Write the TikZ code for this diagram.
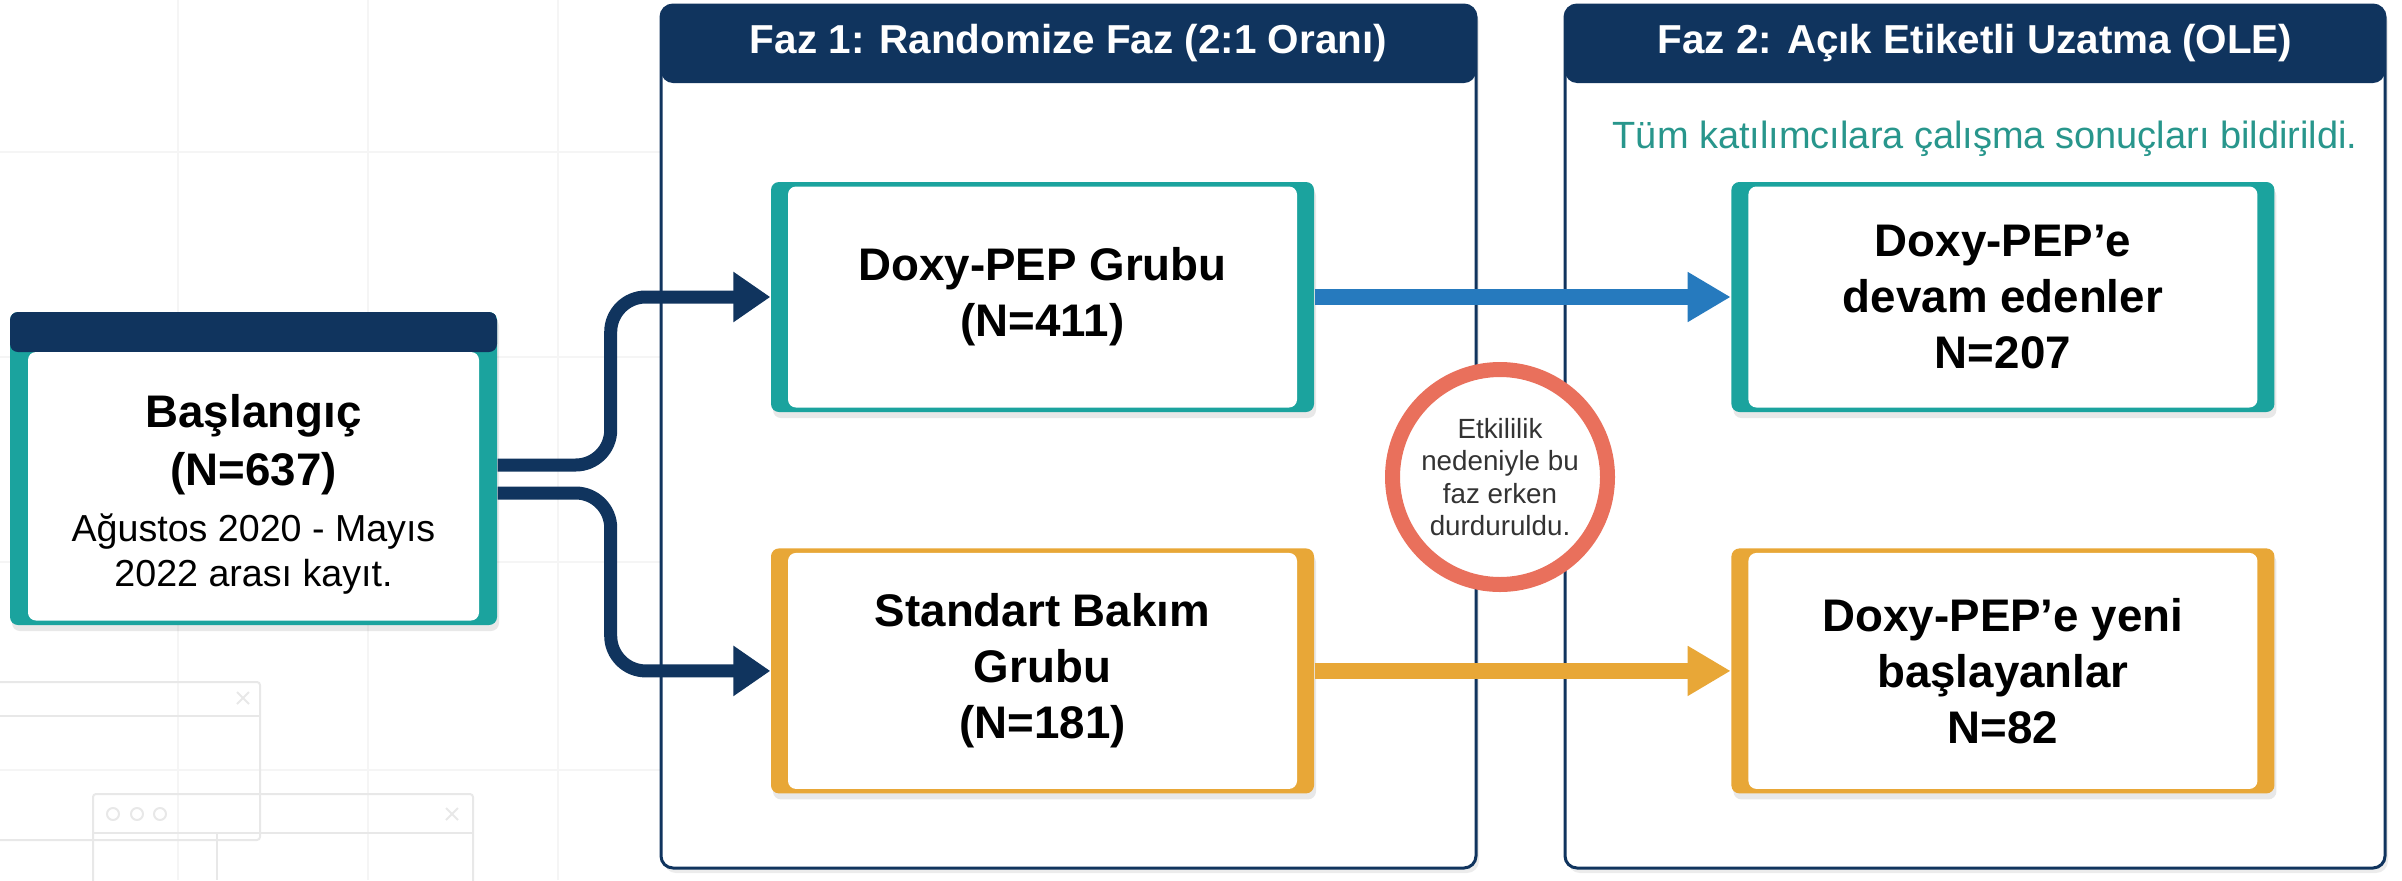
\documentclass[tikz,border=0pt]{standalone}
\usepackage{fontspec}
\setmainfont{Liberation Sans}
\usetikzlibrary{arrows.meta, positioning, calc, shadows}

\definecolor{navy}{RGB}{16,52,94}
\definecolor{tealc}{RGB}{27,163,158}
\definecolor{gold}{RGB}{232,167,55}
\definecolor{flowblue}{RGB}{38,122,190}
\definecolor{ring}{RGB}{233,112,92}
\definecolor{subteal}{RGB}{40,150,140}

\begin{document}
\begin{tikzpicture}
\tikzset{
  panel/.style={
    draw=navy,
    line width=0.03cm,
    fill=white,
    rounded corners=0.12cm,
    minimum width=8.15cm,
    minimum height=8.63cm,
    drop shadow={opacity=0.15, shadow xshift=0.03cm, shadow yshift=-0.05cm},
    path picture={\fill[navy] ($(path picture bounding box.north west)+(0,-0.78)$) rectangle (path picture bounding box.north east);}
  },
  group/.style={
    rectangle,
    fill=#1,
    rounded corners=0.08cm,
    minimum width=5.43cm,
    minimum height=2.30cm,
    align=center,
    font=\fontsize{13}{16}\selectfont\bfseries,
    drop shadow={opacity=0.18, shadow xshift=0.02cm, shadow yshift=-0.06cm},
    path picture={\fill[white] ($(path picture bounding box.south west)+(0.17,0.045)$) rectangle ($(path picture bounding box.north east)+(-0.17,-0.045)$);}
  },
  startbox/.style={
    rectangle,
    fill=tealc,
    rounded corners=0.08cm,
    minimum width=4.87cm,
    minimum height=3.13cm,
    drop shadow={opacity=0.18, shadow xshift=0.02cm, shadow yshift=-0.06cm},
    path picture={
      \fill[navy] ($(path picture bounding box.north west)+(0,-0.40)$) rectangle (path picture bounding box.north east);
      \fill[white] ($(path picture bounding box.south west)+(0.18,0.045)$) rectangle ($(path picture bounding box.north east)+(-0.18,-0.40)$);}
  },
  header/.style={text=white, font=\fontsize{11.5}{14}\selectfont\bfseries},
  branch/.style={draw=navy, line width=0.13cm, rounded corners=0.35cm, -{Triangle[length=0.37cm, width=0.48cm]}},
  carry/.style={line width=0.16cm, -{Triangle[length=0.43cm, width=0.47cm]}},
  faint/.style={draw=black!4, line width=0.02cm}
}
\useasboundingbox (0,0) rectangle (24.02,-8.80);

% Background grid and window outlines
\foreach \x in {1.78,3.68,5.58}
  \draw[faint] (\x,0) -- (\x,-8.80);
\foreach \y in {-1.52,-3.57,-5.62,-7.70}
  \draw[faint] (0,\y) -- (6.6,\y);
\draw[faint, draw=black!9, rounded corners=0.03cm] (-0.1,-6.82) rectangle (2.60,-8.40);
\draw[faint, draw=black!9] (-0.1,-7.16) -- (2.60,-7.16);
\draw[faint, draw=black!9] (2.37,-6.92) -- (2.49,-7.04) (2.37,-7.04) -- (2.49,-6.92);
\draw[faint, draw=black!9, rounded corners=0.03cm] (0.93,-9.0) rectangle (4.73,-7.94);
\draw[faint, draw=black!9] (0.93,-8.33) -- (4.73,-8.33);
\draw[faint, draw=black!9] (2.17,-8.33) -- (2.17,-8.80);
\foreach \x in {1.13,1.37,1.60}
  \draw[faint, draw=black!9] (\x,-8.14) circle (0.06);
\draw[faint, draw=black!9] (4.46,-8.08) -- (4.58,-8.20) (4.46,-8.20) -- (4.58,-8.08);

% Phase panels
\node[panel] (faz1) at (10.685,-4.365) {};
\node[header] at ($(faz1.north)+(0,-0.40)$) {Faz 1: Randomize Faz (2:1 Oranı)};
\node[panel, minimum width=8.20cm] (faz2) at (19.75,-4.365) {};
\node[header] at ($(faz2.north)+(0,-0.40)$) {Faz 2: Açık Etiketli Uzatma (OLE)};
\node[anchor=base, text=subteal, font=\fontsize{10.8}{13}\selectfont] (bildirim) at ($(faz2.north)+(0.10,-1.45)$) {Tüm katılımcılara çalışma sonuçları bildirildi.};

% Start box
\node[startbox] (baslangic) at (2.535,-4.685) {};
\node[align=center, font=\fontsize{13}{16.5}\selectfont\bfseries] (baslangicT) at ($(baslangic.center)+(0,0.243)$) {Başlangıç\\(N=637)};
\node[align=center, font=\fontsize{10.7}{12.8}\selectfont] (baslangicS) at ($(baslangic.center)+(0,-0.86)$) {Ağustos 2020 - Mayıs\\2022 arası kayıt.};

% Groups
\node[group=tealc] (doxy) at (10.425,-2.97) {Doxy-PEP Grubu\\(N=411)};
\node[group=gold, minimum height=2.45cm, below=1.35cm of doxy] (standart) {Standart Bakım\\Grubu\\(N=181)};
\node[group=tealc, right=4.16cm of doxy] (devam) {Doxy-PEP’e\\devam edenler\\N=207};
\node[group=gold, minimum height=2.45cm, right=4.16cm of standart] (yeni) {Doxy-PEP’e yeni\\başlayanlar\\N=82};

% Randomisation arrows
\draw[branch] ($(baslangic.east)+(0,0.035)$) -- ++(1.13,0) |- (doxy.west);
\draw[branch] ($(baslangic.east)+(0,-0.245)$) -- ++(1.13,0) |- (standart.west);

% Phase 1 to phase 2 arrows
\draw[carry, flowblue] (doxy.east) -- (devam.west);
\draw[carry, gold] (standart.east) -- (yeni.west);

% Early stop note
\node[circle, draw=ring, line width=0.15cm, fill=white, minimum size=2.15cm, inner sep=0pt, align=center, text=black!80, font=\fontsize{7.9}{9.2}\selectfont, drop shadow={opacity=0.18, shadow xshift=0.02cm, shadow yshift=-0.05cm}] (durdur) at (15.00,-4.77) {Etkililik\\nedeniyle bu\\faz erken\\durduruldu.};

\end{tikzpicture}
\end{document}
